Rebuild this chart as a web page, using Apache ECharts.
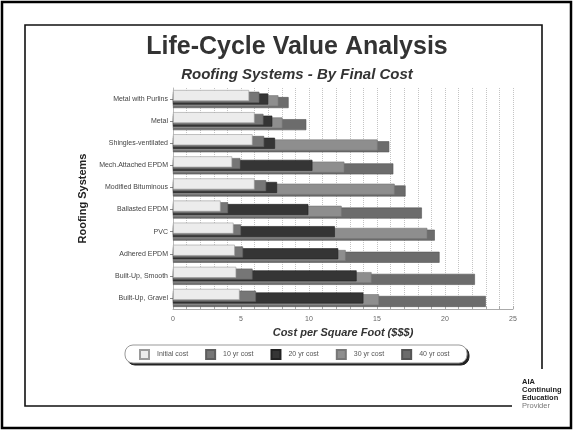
<!DOCTYPE html>
<html><head><meta charset="utf-8">
<script src="https://cdn.jsdelivr.net/npm/echarts@6/dist/echarts.min.js"></script>
<style>html,body{margin:0;padding:0;background:#fff}#c{width:574px;height:431px}</style>
</head><body><div id="c"></div>
<script>
const categories = ['Metal with Purlins','Metal','Shingles-ventilated','Mech.Attached EPDM','Modified Bituminous','Ballasted EPDM','PVC','Adhered EPDM','Built-Up, Smooth','Built-Up, Gravel'];
const seriesNames = ['Initial cost','10 yr cost','20 yr cost','30 yr cost','40 yr cost'];
const initialCost = [5.6,6.0,5.85,4.35,6.0,3.5,4.45,4.55,4.65,4.9];
const cost10 = [6.35,6.65,6.7,4.95,6.85,4.05,5.0,5.15,5.85,6.1];
const cost20 = [7.0,7.3,7.5,10.25,7.65,9.95,11.9,12.15,13.5,14.0];
const cost30 = [7.75,8.05,15.05,12.6,16.3,12.4,18.7,12.7,14.6,15.15];
const cost40 = [8.5,9.8,15.9,16.2,17.1,18.3,19.25,19.6,22.2,23.0];
const xTickLabels = [0,5,10,15,20,25];

const values = [initialCost, cost10, cost20, cost30, cost40];
const colors = ['#ececec','#767676','#353535','#8e8e8e','#6c6c6c'];
const borders = ['#9a9a9a','#5e5e5e','#222222','#777777','#555555'];
const F = 'Liberation Sans, Arial, sans-serif';

const chart = echarts.init(document.getElementById('c'), null, {renderer:'canvas'});
const series = seriesNames.map((name, i) => ({
  name, type:'bar', data: values[i],
  barWidth: 11, barGap: '-84%',
  z: 10 - i,
  itemStyle: {color: colors[i], borderColor: borders[i], borderWidth: 0.6},
  emphasis: {disabled: true}, animation: false
}));

chart.setOption({
  animation: false,
  backgroundColor: '#fff',
  grid: {left: 173, right: 61, top: 88, bottom: 122},
  xAxis: {
    type: 'value', min: 0, max: 25, interval: 1,
    name: 'Cost per Square Foot ($$$)', nameLocation: 'middle', nameGap: 17,
    nameTextStyle: {fontFamily: F, fontWeight: 'bold', fontStyle: 'italic', fontSize: 11, color: '#333', verticalAlign: 'top'},
    axisLine: {show: true, lineStyle: {color: '#aaa', width: 1}},
    axisTick: {show: true, length: 3, inside: true, lineStyle: {color: '#aaa'}},
    axisLabel: {fontFamily: F, fontSize: 7, color: '#666', margin: 7,
      formatter: v => xTickLabels.indexOf(v) >= 0 ? String(v) : ''},
    splitLine: {show: true, lineStyle: {color: '#c4c4c4', type: 'dotted', width: 1}}
  },
  yAxis: {
    type: 'category', data: categories, inverse: true,
    name: 'Roofing Systems', nameLocation: 'middle', nameGap: 75, nameRotate: 90,
    nameTextStyle: {fontFamily: F, fontWeight: 'bold', fontSize: 11, color: '#222'},
    axisLine: {show: true, lineStyle: {color: '#bbb'}},
    axisTick: {show: true, length: 3, alignWithLabel: true, lineStyle: {color: '#888'}},
    axisLabel: {fontFamily: F, fontSize: 7, color: '#444', margin: 5}
  },
  legend: {
    data: seriesNames, left: 139, top: 349, padding: 0,
    itemWidth: 9, itemHeight: 9, itemGap: 17, icon: 'rect',
    textStyle: {fontFamily: F, fontSize: 7, color: '#555', width: 38, padding: [0,0,0,3]},
    selectedMode: false, z: 20
  },
  series,
  graphic: [
    {type:'rect', shape:{x:2, y:2, width:569, height:426}, style:{fill:'none', stroke:'#000', lineWidth:2.5}, z:1},
    {type:'polyline', shape:{points:[[512,406],[25,406],[25,25],[542,25],[542,369]]}, style:{fill:'none', stroke:'#111', lineWidth:1.6}, z:1},
    {type:'text', style:{x:297, y:47, text:'Life-Cycle Value Analysis', fill:'#333', font:'bold 25px ' + F, align:'center', verticalAlign:'middle'}, z:5},
    {type:'text', style:{x:297, y:75, text:'Roofing Systems - By Final Cost', fill:'#333', font:'italic bold 15px ' + F, align:'center', verticalAlign:'middle'}, z:5},
    {type:'rect', shape:{x:127, y:347, width:342, height:18, r:8}, style:{fill:'#222', stroke:'#222'}, z:15},
    {type:'rect', shape:{x:125, y:345, width:342, height:18, r:8}, style:{fill:'#fff', stroke:'#999', lineWidth:1}, z:16},
    {type:'text', style:{x:522, y:382, text:'AIA', fill:'#222', font:'bold 7.5px ' + F, verticalAlign:'middle'}, z:5},
    {type:'text', style:{x:522, y:390, text:'Continuing', fill:'#222', font:'bold 7.5px ' + F, verticalAlign:'middle'}, z:5},
    {type:'text', style:{x:522, y:398, text:'Education', fill:'#222', font:'bold 7.5px ' + F, verticalAlign:'middle'}, z:5},
    {type:'text', style:{x:522, y:406, text:'Provider', fill:'#777', font:'7.5px ' + F, verticalAlign:'middle'}, z:5}
  ]
});
</script></body></html>
